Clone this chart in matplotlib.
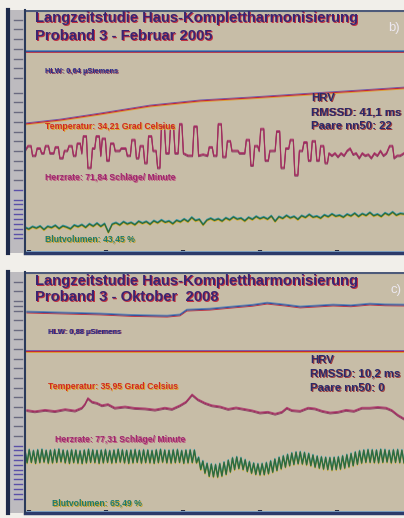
import numpy as np
import matplotlib
matplotlib.use('Agg')
import matplotlib.pyplot as plt
from matplotlib.transforms import offset_copy

plt.rcParams['font.family'] = ['Liberation Sans', 'DejaVu Sans']

# ---------- panel b: Proband 3 - Februar 2005 ----------
b_title = ['Langzeitstudie Haus-Komplettharmonisierung', 'Proband 3 - Februar 2005']
b_hlw_t = [0, 100]
b_hlw = [83.1, 83.1]
b_temp_t = [0, 9.2, 19.8, 33.0, 46.2, 59.4, 75.2, 88.4, 100]
b_temp = [53.1, 54.7, 57.2, 60.5, 62.6, 63.8, 65.4, 66.7, 67.9]
b_hr_pts = [
    (0, 42), (0.8, 44), (1.6, 44), (2.0, 40), (2.8, 40), (3.2, 43), (4.0, 43), (4.4, 41),
    (5.0, 41), (5.4, 44), (6.2, 44), (6.6, 41), (7.6, 41), (8.0, 43.5), (8.8, 43.5), (9.2, 39),
    (10.0, 39), (10.4, 42), (11.2, 42), (11.6, 44), (12.4, 44), (12.8, 40), (13.4, 40), (13.8, 45),
    (14.6, 45), (15.0, 41), (15.4, 48), (16.2, 48), (16.6, 35), (17.4, 35), (17.8, 43), (18.4, 43),
    (18.8, 48), (19.6, 48), (20.0, 40), (20.4, 47), (21.2, 47), (21.6, 38), (22.2, 38), (22.6, 45),
    (23.4, 45), (23.8, 42), (25.0, 42), (25.4, 43), (26.6, 43), (27.0, 40), (27.8, 40), (28.2, 46.5),
    (29.0, 46.5), (29.4, 39), (30.0, 39), (30.4, 44), (31.2, 44), (31.6, 37), (32.2, 37), (32.6, 48),
    (33.4, 48), (33.8, 42), (34.6, 42), (35.0, 35), (35.6, 35), (36.0, 52), (36.8, 52), (37.2, 41),
    (38.0, 41), (38.4, 52), (39.2, 52), (39.6, 41), (40.4, 41), (40.8, 53), (41.4, 53), (41.8, 41),
    (43.0, 40), (44.2, 40), (44.6, 52), (45.4, 52), (45.8, 40), (47.0, 40.5), (48.2, 40), (48.6, 43.5),
    (49.4, 43.5), (49.8, 40), (50.6, 40), (51.0, 53), (51.8, 53), (52.2, 39.5), (53.0, 39.5), (53.4, 46),
    (54.2, 46), (54.6, 42), (56.2, 42), (56.6, 41), (58.0, 41), (58.4, 46.5), (59.2, 46.5), (59.6, 36),
    (60.2, 36), (60.6, 44), (61.4, 44), (61.8, 42), (62.2, 51), (63.0, 51), (63.4, 38), (64.2, 38),
    (64.6, 42), (66.0, 42), (66.4, 50), (67.2, 50), (67.6, 35), (68.4, 35), (68.8, 43), (69.6, 43),
    (70.0, 46.5), (70.8, 46.5), (71.2, 32), (72.0, 32), (72.4, 42), (73.2, 42), (73.6, 45.5), (74.4, 45.5),
    (74.8, 38), (75.4, 38), (75.8, 46), (76.6, 46), (77.0, 38), (77.6, 38), (78.0, 44), (78.8, 44),
    (79.2, 37), (79.8, 37), (80.2, 41), (81.0, 40), (81.8, 41), (82.6, 39.5), (83.4, 41), (84.2, 40),
    (85.0, 42), (85.8, 43), (86.6, 40.5), (87.4, 41), (88.2, 39), (89.0, 41), (89.8, 40), (90.6, 40.5),
    (91.4, 39), (92.2, 41), (93.0, 40), (93.8, 42), (94.6, 40), (95.4, 41), (96.2, 44), (97.0, 44),
    (97.4, 39), (98.2, 40), (99.0, 40), (100, 41),
]
b_bv = [10.5, 9.8, 10.8, 10.2, 11.0, 9.6, 10.9, 10.4, 11.3, 10.0, 11.1, 10.6, 9.9, 11.4, 10.8, 11.6,
        10.5, 11.9, 11.0, 12.2, 10.9, 12.0, 8.5, 11.8, 12.4, 11.5, 12.8, 11.9, 12.5, 11.6, 13.0, 12.2,
        12.9, 11.8, 13.2, 12.4, 13.5, 12.6, 13.1, 12.0, 13.4, 12.8, 13.9, 12.9, 14.6, 13.3, 13.8, 11.6,
        13.5, 14.2, 13.4, 14.0, 13.1, 14.4, 13.6, 14.8, 13.9, 14.3, 13.2, 14.6, 13.8, 15.0, 14.1, 14.7,
        13.9, 15.2, 13.0, 14.9, 14.2, 15.4, 14.4, 15.0, 13.8, 15.3, 14.6, 15.8, 14.7, 15.1, 14.3, 15.6,
        14.9, 16.0, 15.1, 15.5, 14.7, 15.9, 15.2, 16.3, 15.0, 16.1, 15.4, 16.6, 15.3, 15.9, 15.0, 16.4,
        15.6, 16.8, 15.5, 16.2, 16.0]
b_labels = ['HLW: 0,64 µSiemens', 'Temperatur: 34,21 Grad Celsius',
            'Herzrate: 71,84 Schläge/ Minute', 'Blutvolumen: 43,45 %']
b_hrv = ['HRV', 'RMSSD: 41,1 ms', 'Paare nn50: 22']

# ---------- panel c: Proband 3 - Oktober 2008 ----------
c_title = ['Langzeitstudie Haus-Komplettharmonisierung', 'Proband 3 - Oktober  2008']
c_hlw_t = [0.5, 10, 19.8, 28, 37.5, 40.9, 42.7, 48.8, 54.9, 60, 63.9, 68.6, 72.6, 77, 81.3, 86, 91, 95, 100]
c_hlw = [83.4, 83.0, 82.6, 82.0, 81.7, 82.2, 84.2, 84.6, 85.5, 86.2, 87.1, 86.3, 85.5, 85.9, 86.3, 86.0, 86.7, 86.4, 86.3]
c_temp_t = [0, 100]
c_temp = [67.4, 67.4]
c_hr_t = [0.5, 2.6, 5.3, 7.9, 10.6, 13.2, 15.0, 15.8, 16.6, 17.7, 19.0, 20.3, 21.9, 23.7, 26.4, 29.0,
          31.7, 34.3, 36.9, 38.8, 40.9, 42.5, 44.1, 45.6, 47.5, 49.3, 51.5, 53.6, 55.7, 57.8, 59.9, 62.0,
          64.1, 66.0, 67.8, 69.1, 70.4, 72.6, 74.7, 76.5, 78.4, 80.5, 82.6, 84.7, 86.8, 88.9, 91.0, 93.1,
          95.3, 96.8, 98.4, 100]
c_hr = [42.5, 42.0, 42.6, 42.1, 42.9, 42.3, 43.5, 45.0, 47.5, 46.0, 45.5, 44.5, 45.0, 43.5, 44.0, 43.4,
        43.2, 42.7, 43.5, 43.0, 44.5, 46.0, 49.0, 47.0, 45.5, 44.5, 44.0, 43.0, 43.6, 43.0, 42.4, 41.5,
        41.8, 41.0, 41.8, 43.5, 42.5, 42.2, 43.5, 43.2, 42.2, 41.5, 41.8, 42.6, 42.2, 43.5, 43.5, 43.8,
        43.5, 42.5, 40.5, 39.0]
c_bv = [26.0, 20.8, 26.2, 21.0, 25.8, 20.6, 26.1, 20.9, 26.3, 21.1, 25.9, 20.7, 26.0, 20.8, 26.2, 21.0,
        26.4, 21.2, 26.0, 20.8, 25.8, 20.6, 26.1, 20.9, 26.0, 20.7, 25.7, 20.5, 26.0, 20.8, 26.3, 21.0,
        26.1, 20.9, 25.9, 20.6, 26.0, 20.8, 26.2, 21.0, 25.8, 20.7, 26.0, 20.9, 26.3, 21.1, 26.1, 20.8,
        25.9, 20.6, 26.0, 20.8, 26.2, 21.0, 25.9, 20.7, 26.1, 20.9, 26.0, 20.8, 25.8, 20.6, 26.1, 20.9,
        26.3, 21.1, 26.0, 20.8, 25.9, 20.7, 26.1, 20.9, 26.2, 21.0, 25.8, 20.6, 26.0, 20.8, 26.1, 20.9,
        26.0, 20.8,
        23.0, 18.0, 21.5, 16.5, 20.5, 15.2, 20.2, 15.0, 20.0, 14.9,
        20.4, 15.3, 21.0, 16.0, 21.8, 17.0, 22.8, 18.0, 23.2, 18.4,
        22.8, 18.0, 22.0, 17.2, 21.2, 16.5, 20.6, 16.0, 20.3, 15.8, 20.4, 15.9,
        20.8, 16.3, 21.5, 16.9, 22.3, 17.6, 23.0, 18.3, 23.6, 19.0, 24.2, 19.6, 24.8, 20.1, 25.2, 20.4,
        25.3, 20.3, 25.0, 20.0, 24.6, 19.6, 24.0, 19.0, 23.5, 18.6, 23.2, 18.2,
        23.0, 18.0, 22.9, 17.8, 23.0, 18.0, 23.2, 18.2, 23.6, 18.6, 24.1, 19.1,
        24.6, 19.6, 25.2, 20.2, 25.7, 20.7, 26.0, 21.0, 26.2, 21.0, 26.1, 20.9, 26.0, 20.8, 26.3, 21.0,
        26.2, 21.1, 25.9, 20.8, 26.1, 21.0, 26.2, 20.9, 26.0, 20.8]
c_labels = ['HLW: 0,88 µSiemens', 'Temperatur: 35,95 Grad Celsius',
            'Herzrate: 77,31 Schläge/ Minute', 'Blutvolumen: 65,49 %']
c_hrv = ['HRV', 'RMSSD: 10,2 ms', 'Paare nn50: 0']

time_ticks = [1, 21.3, 41.6, 61.9, 82.2]

BG = '#c7bda7'


def shifted(ax, dx, dy, t=None):
    return offset_copy(t if t is not None else ax.transData, fig=ax.figure, x=dx, y=dy, units='dots')


def line3(ax, x, y, main, top, bottom, lw=0.8):
    # the scan has colour fringes, so each trace gets a shifted copy above and below
    ax.plot(x, y, color=bottom, lw=lw * 0.8, transform=shifted(ax, 0, -1.0))
    ax.plot(x, y, color=top, lw=lw * 0.8, transform=shifted(ax, 0, 0.9))
    ax.plot(x, y, color=main, lw=lw)


def text2(ax, x, y, s, size, color, shadow, weight='bold'):
    ax.text(x, y, s, fontsize=size, color=shadow, weight=weight, va='center',
            transform=shifted(ax, 0.8, -0.8, ax.transAxes))
    ax.text(x, y, s, fontsize=size, color=color, weight=weight, va='center', transform=ax.transAxes)


def panel(top_px, bot_px, title, tag, hlw, temp, hr, bv, labels, hrv, lab_pos, hrv_pos, tag_pos):
    H = 518.0
    ax = fig.add_axes([25 / 404, (H - bot_px) / H, 379 / 404, (bot_px - top_px) / H])
    ax.set_facecolor(BG)
    ax.set_xlim(0, 100)
    ax.set_ylim(0, 100)
    for s in ['top', 'right', 'left']:
        ax.spines[s].set_visible(False)
    ax.spines['bottom'].set_color('#2b3a6a')
    ax.spines['bottom'].set_linewidth(2.5)
    ax.set_yticks([])
    ax.set_xticks(time_ticks)
    ax.set_xticklabels([])
    ax.tick_params(axis='x', direction='in', length=2.5, width=3, color='#2a2a3a')
    ax.axhline(99.6, color='#4d5a7a', lw=1.5)
    ax.axhline(1.0, color='#8fb8d8', lw=0.7)

    line3(ax, hlw[0], hlw[1], '#3a4f9a', '#5a8ab8', '#c03040')
    line3(ax, temp[0], temp[1], '#c0283a', '#6a5ab0', '#e0a030')
    line3(ax, hr[0], hr[1], '#a02c5c', '#b04a7a', '#8a4a6a', 0.85)
    line3(ax, bv[0], bv[1], '#2f6a3a', '#3aa0b8', '#d8b030', 1.0)

    text2(ax, 0.026, title[2], title[0], 10.6, '#3a2472', '#c03040')
    text2(ax, 0.026, title[3], title[1], 10.6, '#3a2472', '#c03040')
    ax.text(tag_pos[0], tag_pos[1], tag, fontsize=9.5, color='#ece8f0', va='center', transform=ax.transAxes)

    colors = [('#2a2a88', '#8a4060'), ('#d02a20', '#e0a030'), ('#a02870', '#c06080'), ('#1f7a6a', '#c0a030')]
    sizes = [5.4, 6.2, 6.2, 6.2]
    for (x, y), s, (c, sh), fs in zip(lab_pos, labels, colors, sizes):
        text2(ax, x, y, s, fs, c, sh)
    for y, s in zip(hrv_pos[1], hrv):
        text2(ax, hrv_pos[0], y, s, 8.2, '#2a2a6a', '#a04040')

    # left scale strip
    st = fig.add_axes([8 / 404, (H - bot_px) / H, 17 / 404, (bot_px - top_px) / H])
    st.set_facecolor('#bdbbbf')
    st.set_xlim(0, 1)
    st.set_ylim(0, 100)
    st.set_xticks([])
    st.set_yticks([])
    for s in ['top', 'bottom']:
        st.spines[s].set_visible(False)
    st.spines['left'].set_color('#1e2a4a')
    st.spines['left'].set_linewidth(3)
    st.spines['right'].set_color('#2a3a5a')
    st.spines['right'].set_linewidth(1.5)
    return ax, st


fig = plt.figure(figsize=(4.04, 5.18), dpi=100)
fig.patch.set_facecolor('#f1efea')

b_hr_t = [p[0] for p in b_hr_pts]
b_hr = [p[1] for p in b_hr_pts]
b_bv_t = np.linspace(0, 100, len(b_bv))
c_bv_t = np.linspace(0, 100, len(c_bv))

axb, stb = panel(10, 253, b_title + [0.967, 0.893], 'b)', (b_hlw_t, b_hlw), (b_temp_t, b_temp),
                 (b_hr_t, b_hr), (b_bv_t, b_bv), b_labels, b_hrv,
                 [(0.053, 0.745), (0.053, 0.519), (0.053, 0.309), (0.053, 0.058)],
                 (0.755, [0.638, 0.580, 0.523]), (0.958, 0.926))
axc, stc = panel(272, 513, c_title + [0.963, 0.896], 'c)', (c_hlw_t, c_hlw), (c_temp_t, c_temp),
                 (c_hr_t, c_hr), (c_bv_t, c_bv), c_labels, c_hrv,
                 [(0.061, 0.751), (0.061, 0.523), (0.079, 0.303), (0.071, 0.041)],
                 (0.752, [0.635, 0.577, 0.519]), (0.965, 0.925))

# scale marks on the strips
b_marks = [96, 92, 88, 84, 80, 76, 72, 66, 62, 58, 54, 50, 46, 42, 38, 34, 30, 26, 22, 20, 18, 16, 14, 12, 10, 8, 6]
c_marks = [96, 92, 88, 86, 84, 80, 76, 72, 68, 64, 60, 56, 52, 48, 44, 40, 36, 32, 28, 26, 24, 22, 20, 18, 16, 14, 12, 10, 8, 6]
for st, marks in [(stb, b_marks), (stc, c_marks)]:
    for m in marks:
        col = '#5a50a8' if m < 30 else '#6a6a80'
        st.plot([0.35, 0.8], [m, m], color=col, lw=1.0)

fig.savefig('out.png', dpi=100, facecolor=fig.get_facecolor())
